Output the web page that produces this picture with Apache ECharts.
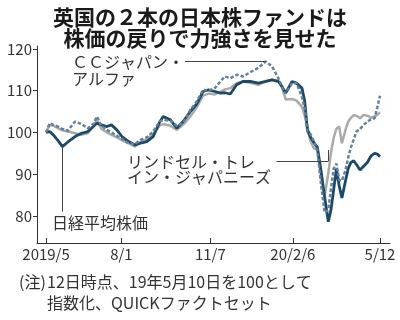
<!DOCTYPE html>
<html><head><meta charset="utf-8">
<script src="https://cdn.jsdelivr.net/npm/echarts@6/dist/echarts.min.js"></script>
<style>html,body{margin:0;padding:0;background:#fff}#c{width:400px;height:320px}</style>
</head><body><div id="c"></div>
<script>
const dates = ['2019-05-10','2019-05-14','2019-05-18','2019-05-23','2019-05-28','2019-06-03','2019-06-11','2019-06-18','2019-06-25','2019-07-01',
'2019-07-05','2019-07-10','2019-07-16','2019-07-21','2019-07-27','2019-08-02','2019-08-09','2019-08-16','2019-08-22','2019-08-29',
'2019-09-05','2019-09-12','2019-09-16','2019-09-24','2019-10-01','2019-10-08','2019-10-16','2019-10-23','2019-10-30','2019-11-05',
'2019-11-12','2019-11-18','2019-11-23','2019-11-29','2019-12-06','2019-12-13','2019-12-21','2019-12-30','2020-01-07','2020-01-14',
'2020-01-21','2020-01-25','2020-01-29','2020-02-05','2020-02-10','2020-02-16','2020-02-19','2020-02-22','2020-02-25','2020-02-29',
'2020-03-04','2020-03-08','2020-03-12','2020-03-16','2020-03-19','2020-03-22','2020-03-25','2020-03-28','2020-03-31','2020-04-04',
'2020-04-07','2020-04-10','2020-04-13','2020-04-16','2020-04-20','2020-04-24','2020-04-28','2020-05-02','2020-05-06','2020-05-09',
'2020-05-12'];
const nikkei = [100.0,100.2,99.4,98.1,96.6,97.7,99.0,99.8,100.2,101.4,
102.2,101.8,101.4,101.8,100.6,98.9,97.8,97.0,97.4,97.8,
99.0,102.4,103.8,103.0,101.0,102.6,105.0,106.8,109.8,110.2,
109.8,109.4,109.5,109.2,111.4,112.2,112.2,111.8,112.2,112.6,
112.2,111.0,109.4,112.2,111.8,110.6,107.5,100.6,99.0,97.6,
96.4,90.8,84.4,78.6,81.5,86.4,91.3,87.2,84.3,88.4,
91.4,92.8,93.2,92.3,91.0,91.9,92.8,94.3,95.0,94.8,
94.2];
const lindsell = [100.0,101.8,101.6,101.0,100.5,100.2,99.8,99.4,99.8,101.4,
103.0,100.8,100.0,99.4,98.8,98.1,97.4,96.6,97.8,98.3,
99.6,101.6,102.0,101.6,100.6,101.8,103.8,106.0,108.8,109.3,
109.1,109.7,110.3,110.6,111.8,112.2,111.9,111.4,112.2,112.6,
112.2,110.8,107.9,108.0,107.6,106.1,104.0,101.5,98.1,96.2,
95.9,89.5,84.8,90.2,95.2,98.8,100.9,101.4,97.4,100.6,
102.6,103.5,104.1,104.0,103.4,104.2,104.0,103.5,103.8,104.2,
104.8];
const ccAlpha = [100.0,102.2,101.8,101.4,100.8,100.4,102.6,102.0,101.0,102.0,
103.8,101.6,100.6,100.0,99.2,98.4,97.4,97.2,98.2,98.8,
100.2,102.6,103.0,102.8,101.6,102.2,105.4,107.4,110.2,110.0,
110.6,112.2,113.4,113.0,113.8,113.4,114.4,115.5,117.0,115.8,
113.0,111.0,109.3,111.8,111.8,108.5,105.6,100.2,99.7,98.0,
95.5,87.5,80.8,81.4,86.6,91.3,92.5,88.6,88.4,91.0,
94.0,96.5,98.3,100.2,100.8,101.8,102.6,103.1,103.4,106.0,
108.8];
const tickDates = ['2019-05-10','2019-08-01','2019-11-07','2020-02-06','2020-05-12'];
const tickLabels = ['2019/5','8/1','11/7','20/2/6','5/12'];
const yTicks = [80,90,100,110,120];
const titleLines = ['英国の２本の日本株ファンドは','株価の戻りで力強さを見せた'];
const ccLabel = ['ＣＣジャパン・','アルファ'];
const lindsellLabel = ['リンドセル・トレ','イン・ジャパニーズ'];
const nikkeiLabel = '日経平均株価';
const noteMark = '(注)';
const noteLines = ['12日時点、19年5月10日を100として','指数化、QUICKファクトセット'];

function ts(s){const p=s.split('-').map(Number);return Date.UTC(p[0],p[1]-1,p[2]);}
const tickTs = tickDates.map(ts);
function pairs(vals){return dates.map((d,i)=>[ts(d),vals[i]]);}
const FONT = "'Noto Sans CJK JP', 'Noto Sans', sans-serif";
const leaderStyle = {color:'#444', width:1, type:'solid'};
function ml(segs){
  return {silent:true, symbol:'none', animation:false, label:{show:false}, lineStyle:leaderStyle,
    emphasis:{disabled:true},
    data: segs.map(s=>[{coord:[ts(s[0]),s[1]]},{coord:[ts(s[2]),s[3]]}])};
}
function txt(str,x,y,opt){
  return {type:'text', x:x, y:y, style:Object.assign({text:str, fill:'#333', font:'16px '+FONT, textVerticalAlign:'middle'}, opt||{})};
}
const chart = echarts.init(document.getElementById('c'), null, {renderer:'canvas'});
chart.setOption({
  animation:false,
  backgroundColor:'#fff',
  grid:{left:37, right:10, top:46, bottom:77},
  xAxis:{type:'value', min:ts('2019-04-30'), max:ts('2020-05-23'),
    axisLine:{onZero:false, lineStyle:{color:'#333', width:1}},
    axisTick:{customValues:tickTs, inside:true, length:5, lineStyle:{color:'#333'}},
    axisLabel:{customValues:tickTs, margin:4, color:'#333', fontSize:15, fontFamily:FONT,
      alignMinLabel:'center', alignMaxLabel:'center', hideOverlap:false,
      formatter:function(v){let b=0,bd=1e20;tickTs.forEach((t,i)=>{const d=Math.abs(t-v);if(d<bd){bd=d;b=i;}});return tickLabels[b];}},
    splitLine:{show:false}},
  yAxis:{type:'value', min:73.5, max:120.7,
    axisLine:{show:true, lineStyle:{color:'#333', width:1}},
    axisTick:{show:true, customValues:yTicks, length:4, lineStyle:{color:'#333'}},
    axisLabel:{customValues:yTicks, margin:5, color:'#333', fontSize:15, fontFamily:FONT},
    splitLine:{show:false}},
  series:[
    {name:'リンドセル・トレイン・ジャパニーズ', type:'line', data:pairs(lindsell), showSymbol:false, symbol:'none',
      lineStyle:{color:'#aaaaaa', width:2.5}, z:2,
      markLine: ml([['2020-01-19',93.1,'2020-03-16',93.1],['2020-03-16',93.1,'2020-03-16',95.8]])},
    {name:'日経平均株価', type:'line', data:pairs(nikkei), showSymbol:false, symbol:'none',
      lineStyle:{color:'#1c4a66', width:2.8}, z:3,
      markLine: ml([['2019-05-28',96.6,'2019-05-28',81.0]])},
    {name:'CCジャパン・アルファ', type:'line', data:pairs(ccAlpha), showSymbol:false, symbol:'none',
      lineStyle:{color:'#62819a', width:2.5, type:[3.5,2]}, z:4,
      markLine: ml([['2019-10-10',117.0,'2020-01-07',117.0]])}
  ],
  graphic:[
    txt(titleLines[0],200,17,{textAlign:'center', fill:'#1a1a1a', font:'bold 21px '+FONT}),
    txt(titleLines[1],200,38,{textAlign:'center', fill:'#1a1a1a', font:'bold 21px '+FONT}),
    txt(ccLabel[0],72,62),
    txt(ccLabel[1],72,79),
    txt(lindsellLabel[0],127,162),
    txt(lindsellLabel[1],127,177),
    txt(nikkeiLabel,52,223),
    txt(noteMark,19,282),
    txt(noteLines[0],47,282),
    txt(noteLines[1],47,303)
  ]
});
</script></body></html>
